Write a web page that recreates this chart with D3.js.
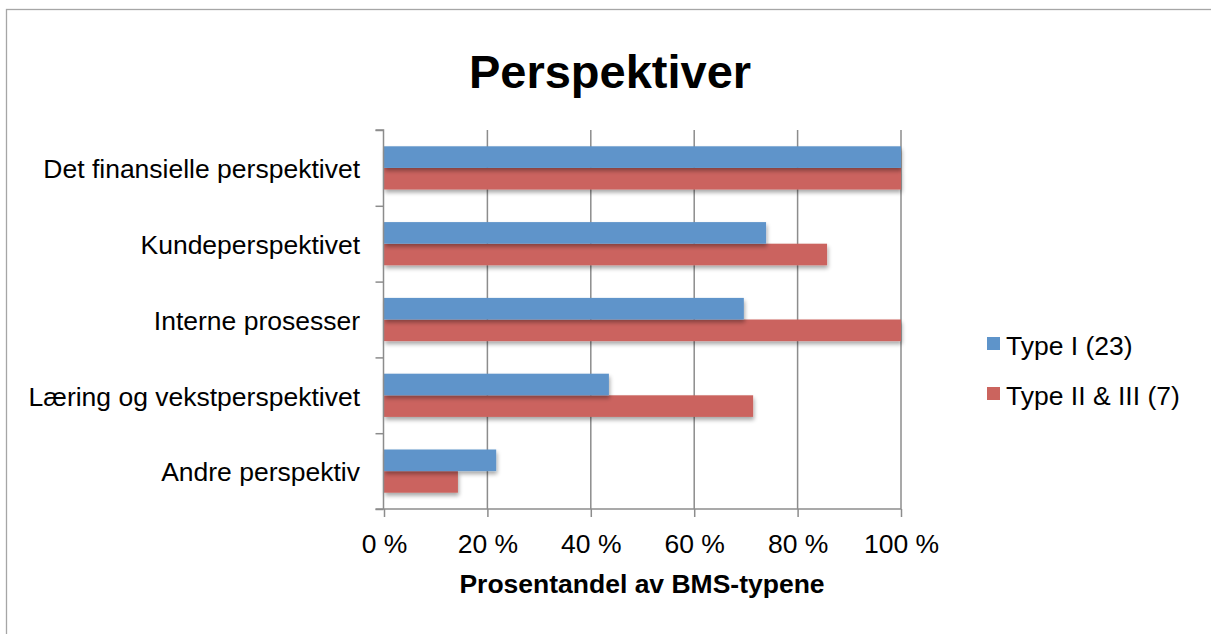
<!DOCTYPE html>
<html>
<head>
<meta charset="utf-8">
<script src="https://cdn.jsdelivr.net/npm/d3@7"></script>
<style>
  html, body { margin: 0; padding: 0; background: #fff; }
  svg { display: block; font-family: "Liberation Sans", Arial, sans-serif; }
</style>
</head>
<body>
<svg id="chart" width="1211" height="634"></svg>
<script>
// Share of each BMS type that uses the given perspective
const categories = [
  "Det finansielle perspektivet",
  "Kundeperspektivet",
  "Interne prosesser",
  "Læring og vekstperspektivet",
  "Andre perspektiv"
];
const seriesNames = ["Type I (23)", "Type II & III (7)"];
const typeI = [1.0, 0.739, 0.696, 0.435, 0.217];
const typeII = [1.0, 0.857, 1.0, 0.714, 0.143];
const xTicks = [0, 0.2, 0.4, 0.6, 0.8, 1.0];
const colors = ["#5E94CA", "#CB645E"];

const svg = d3.select("#chart");
const W = 1211, H = 634;
const plot = { left: 384, right: 901, top: 130, bottom: 509 };
const FS = 26.5;

const defs = svg.append("defs");
const f = defs.append("filter").attr("id", "shadow")
  .attr("x", "-5%").attr("y", "-30%").attr("width", "115%").attr("height", "180%");
f.append("feGaussianBlur").attr("in", "SourceAlpha").attr("stdDeviation", 2);
f.append("feOffset").attr("dx", 1).attr("dy", 3).attr("result", "b");
f.append("feComponentTransfer").append("feFuncA").attr("type", "linear").attr("slope", 0.35);
const m = f.append("feMerge");
m.append("feMergeNode");
m.append("feMergeNode").attr("in", "SourceGraphic");

// outer chart frame
svg.append("rect")
  .attr("x", 6.5).attr("y", 9.5).attr("width", W).attr("height", H)
  .attr("fill", "#fff").attr("stroke", "#a6a6a6").attr("stroke-width", 1.3);

svg.append("text")
  .attr("x", 610).attr("y", 88)
  .attr("text-anchor", "middle")
  .attr("font-size", 47).attr("font-weight", "bold").attr("fill", "#000")
  .text("Perspektiver");

const x = d3.scaleLinear().domain([0, 1]).range([plot.left, plot.right]);
const y = d3.scaleBand().domain(categories).range([plot.top, plot.bottom]).paddingInner(0.43).paddingOuter(0.215);
const y1 = d3.scaleBand().domain(seriesNames).range([0, y.bandwidth()]);

// vertical gridlines
svg.append("g").selectAll("line")
  .data(xTicks.slice(1))
  .join("line")
  .attr("x1", d => x(d)).attr("x2", d => x(d))
  .attr("y1", plot.top).attr("y2", plot.bottom)
  .attr("stroke", "#8c8c8c").attr("stroke-width", 1.5);

// bars
const groups = svg.append("g").selectAll("g")
  .data(categories)
  .join("g")
  .attr("transform", d => `translate(0,${y(d)})`);

groups.selectAll("rect")
  .data((d, i) => [
    { s: seriesNames[0], v: typeI[i], c: colors[0] },
    { s: seriesNames[1], v: typeII[i], c: colors[1] }
  ].reverse())
  .join("rect")
  .attr("x", x(0))
  .attr("y", d => y1(d.s))
  .attr("width", d => x(d.v) - x(0))
  .attr("height", y1.bandwidth())
  .attr("fill", d => d.c)
  .attr("filter", "url(#shadow)");

// category axis
const yAxis = d3.axisLeft(d3.scaleLinear().domain([0, categories.length]).range([plot.top, plot.bottom]))
  .tickValues(d3.range(categories.length + 1))
  .tickSize(8).tickFormat("");
const ya = svg.append("g").attr("transform", `translate(${plot.left - 0.5},0)`).call(yAxis);
ya.selectAll("path, line").attr("stroke", "#8c8c8c").attr("stroke-width", 1.5);
ya.select("path").attr("d", `M-8,${plot.top}H0V${plot.bottom}H-8`);

svg.append("g").selectAll("text")
  .data(categories)
  .join("text")
  .attr("x", 360)
  .attr("y", d => y(d) + y.bandwidth() / 2 + 1)
  .attr("dy", "0.35em")
  .attr("text-anchor", "end")
  .attr("font-size", FS).attr("fill", "#000")
  .text(d => d);

// value axis
const xAxis = d3.axisBottom(x).tickValues(xTicks).tickSize(8)
  .tickFormat(d => `${Math.round(d * 100)} %`);
const xa = svg.append("g").attr("transform", `translate(0,${plot.bottom})`).call(xAxis);
xa.select("path").attr("d", `M${plot.left},0H${plot.right}`).attr("stroke", "#8c8c8c").attr("stroke-width", 1.5);
xa.selectAll("line").attr("stroke", "#8c8c8c").attr("stroke-width", 1.5);
xa.selectAll("text").attr("font-size", FS).attr("fill", "#000").attr("y", 25)
  .attr("font-family", "Liberation Sans, Arial, sans-serif");

svg.append("text")
  .attr("x", 642).attr("y", 593)
  .attr("text-anchor", "middle")
  .attr("font-size", 26.5).attr("font-weight", "bold").attr("fill", "#000")
  .text("Prosentandel av BMS-typene");

// legend
const legend = svg.append("g").selectAll("g")
  .data(seriesNames)
  .join("g")
  .attr("transform", (d, i) => `translate(987,${337 + i * 50})`);
legend.append("rect").attr("width", 13).attr("height", 13).attr("fill", (d, i) => colors[i]);
legend.append("text")
  .attr("x", 19).attr("y", 18)
  .attr("font-size", FS).attr("fill", "#000")
  .text(d => d);
</script>
</body>
</html>
